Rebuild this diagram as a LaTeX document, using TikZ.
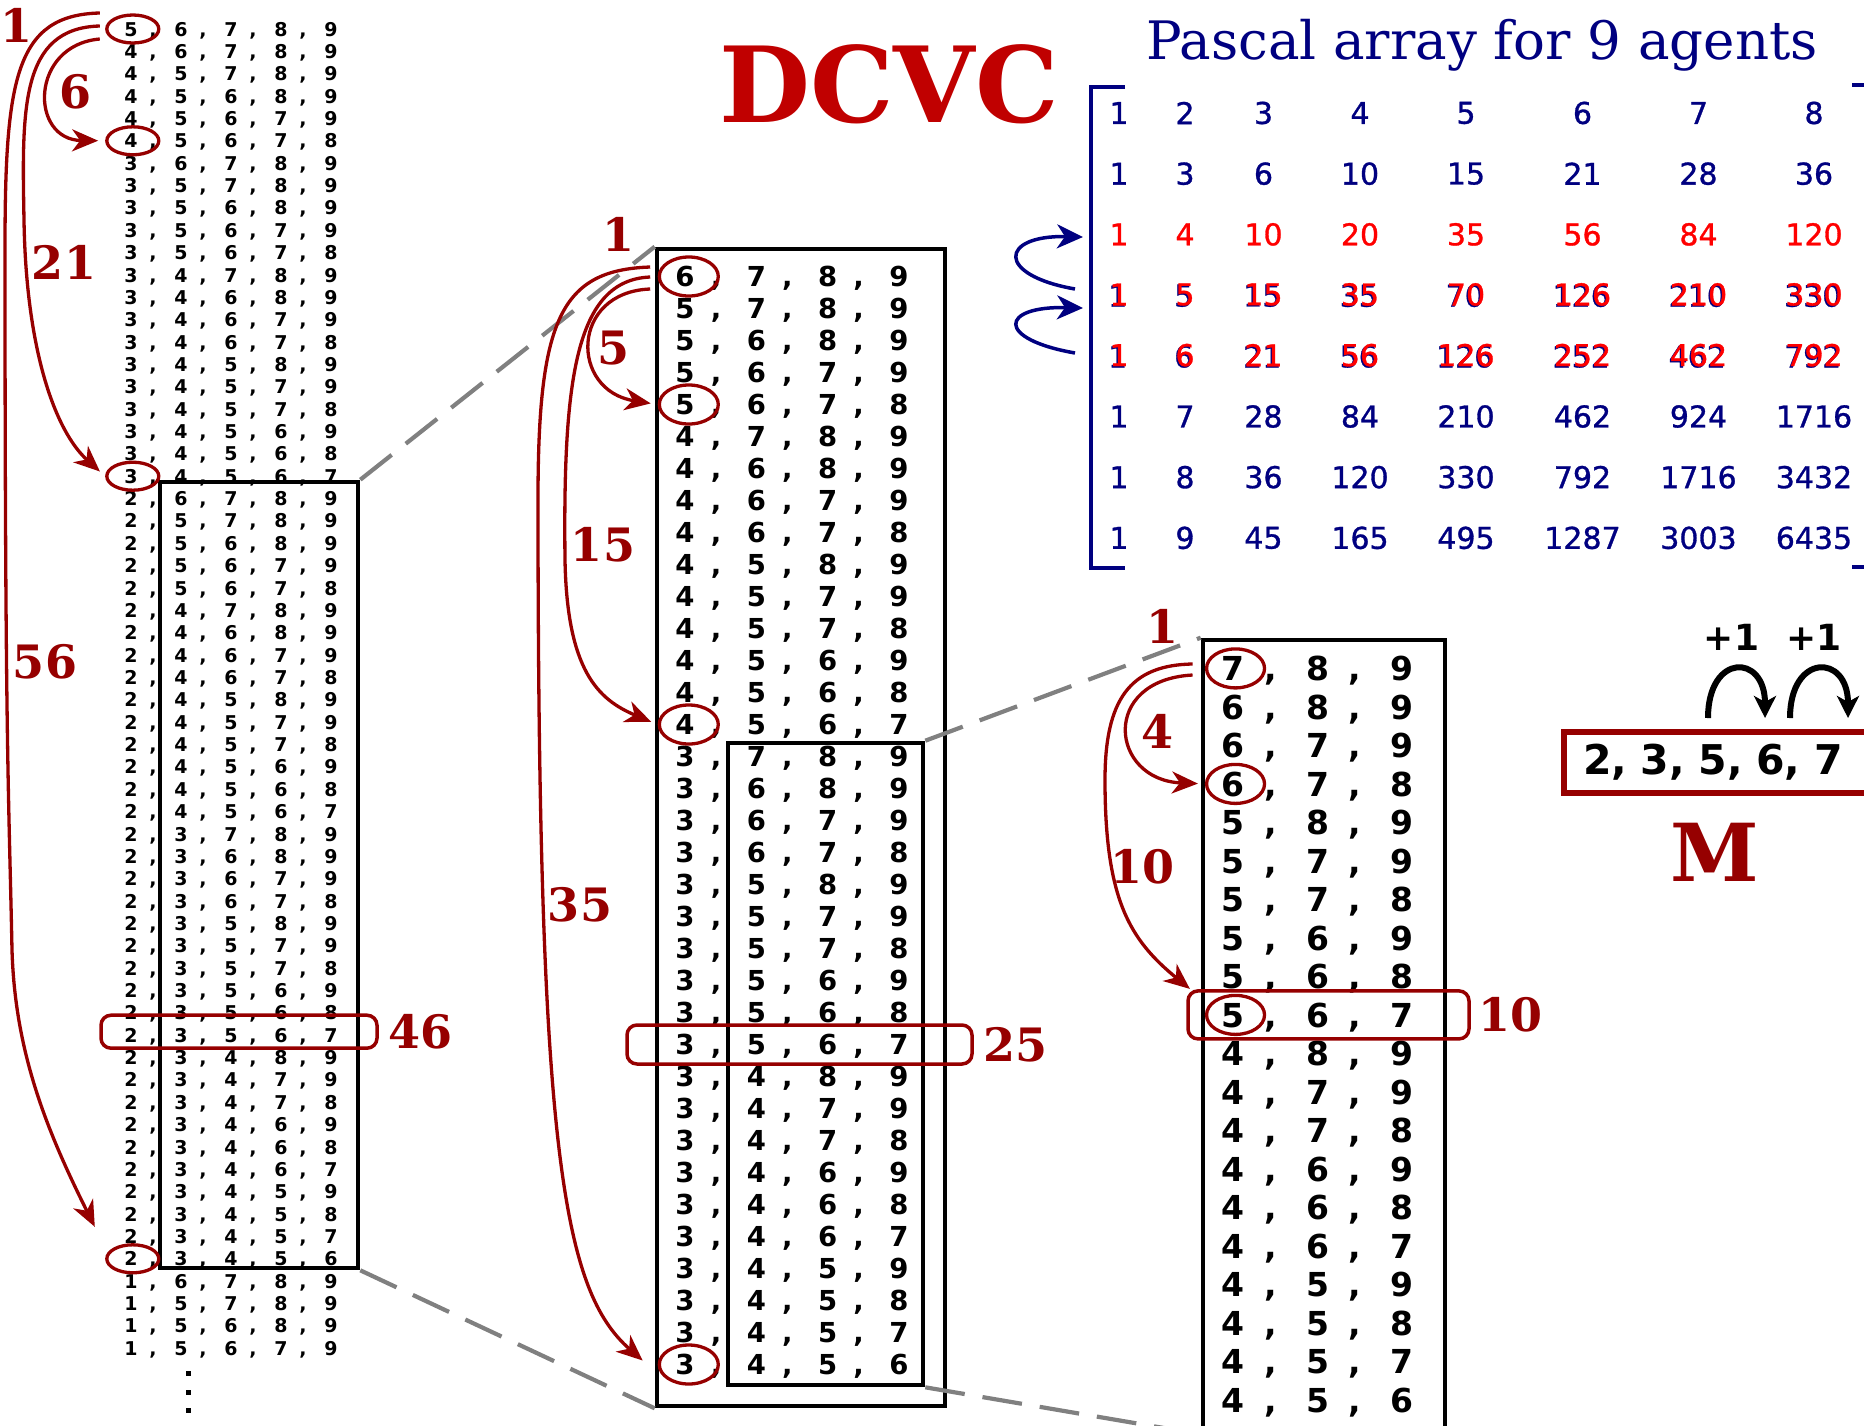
\documentclass[tikz,border=0pt]{standalone}
\usepackage{fontspec}
\newfontfamily\listfont{DejaVu Sans}
\newfontfamily\pasfont[FakeBold=1]{DejaVu Sans}
\newfontfamily\labelfont{DejaVu Serif}
\usetikzlibrary{arrows.meta,positioning,shapes.geometric}

\definecolor{tupred}{RGB}{150,0,0}
\definecolor{titlered}{RGB}{192,0,0}
\definecolor{pasnavy}{RGB}{0,0,128}
\definecolor{pasred}{RGB}{255,0,0}
\definecolor{zoomgray}{RGB}{128,128,128}

% one tuple of a list: digits on a fixed pitch, commas pulled a little to the left
\newlength\digitpitch
\newlength\commaback
\newcommand\tdigit[1]{\makebox[\digitpitch]{#1}}
\newcommand\tcomma{\kern-\commaback\makebox[0pt]{,}\kern\commaback}
\newcommand\fivetuple[5]{\tdigit{#1}\tcomma\tdigit{#2}\tcomma\tdigit{#3}\tcomma\tdigit{#4}\tcomma\tdigit{#5}}
\newcommand\fourtuple[4]{\tdigit{#1}\tcomma\tdigit{#2}\tcomma\tdigit{#3}\tcomma\tdigit{#4}}
\newcommand\threetuple[3]{\tdigit{#1}\tcomma\tdigit{#2}\tcomma\tdigit{#3}}
% entries of the Pascal array
\newcommand\plainnum[1]{#1}
\newcommand\rednum[1]{\textcolor{pasred}{#1}}
\newcommand\shadenum[1]{\makebox[0pt][l]{\kern-1.3pt\raisebox{-1.3pt}{\textcolor{pasnavy}{#1}}}\textcolor{pasred}{#1}}

\begin{document}
\begin{tikzpicture}[x=1pt,y=-1pt]
\tikzset{
  rowA/.style={inner sep=0pt,text depth=0pt,font=\listfont\bfseries\fontsize{19}{19}\selectfont\setlength\digitpitch{50pt}\setlength\commaback{3pt}},
  rowB/.style={inner sep=0pt,text depth=0pt,font=\listfont\bfseries\fontsize{27.5}{27.5}\selectfont\setlength\digitpitch{71.3pt}\setlength\commaback{4.7pt}},
  rowC/.style={inner sep=0pt,text depth=0pt,font=\listfont\bfseries\fontsize{33}{33}\selectfont\setlength\digitpitch{84.5pt}\setlength\commaback{4.7pt}},
  ring/.style={ellipse,draw=tupred,line width=3.3pt,inner sep=0pt},
  ringA/.style={ring,minimum width=52pt,minimum height=28pt},
  ringB/.style={ring,minimum width=59pt,minimum height=39pt},
  ringC/.style={ring,minimum width=58pt,minimum height=39pt},
  hlbox/.style={draw=tupred,line width=3.5pt,rounded corners=10pt,inner sep=0pt},
  blkbox/.style={draw=black,line width=4.6pt,inner sep=0pt},
  zoomline/.style={draw=zoomgray,line width=4.2pt,dash pattern=on 40pt off 18pt},
  redarr/.style={-{Stealth[length=26pt,width=22pt,inset=8pt]},draw=tupred,line width=3.3pt,shorten >=7pt},
  countlab/.style={text=tupred,font=\labelfont\bfseries\fontsize{46}{46}\selectfont,inner sep=0pt},
  pnum/.style={text=pasnavy,font=\pasfont\fontsize{30}{30}\selectfont,inner sep=0pt},
  bluearr/.style={-{Stealth[length=26pt,width=24pt,inset=8pt]},draw=pasnavy,line width=3.5pt},
  hoparr/.style={-{Stealth[length=22pt,width=22pt,inset=6pt]},line width=6pt},
  hoplab/.style={font=\listfont\bfseries\fontsize{36}{36}\selectfont,inner sep=0pt},
  mbox/.style={draw=tupred,line width=6pt,font=\listfont\bfseries\fontsize{41}{41}\selectfont}
}
\useasboundingbox (0,0) rectangle (1864,1425);
\clip (0,0) rectangle (1864,1425);

% titles
\node[text=titlered,font=\labelfont\bfseries\fontsize{105}{105}\selectfont,anchor=base,inner sep=0pt] (dcvc) at (889,122) {DCVC};
\node[text=pasnavy,font=\labelfont\fontsize{53}{53}\selectfont,anchor=base,inner sep=0pt] (ptitle) at (1482,59) {Pascal array for 9 agents};

% list of all 5-tuples
\foreach \tup [count=\i] in {56789,46789,45789,45689,45679,45678,36789,35789,35689,35679,35678,
  34789,34689,34679,34678,34589,34579,34578,34569,34568,34567,
  26789,25789,25689,25679,25678,24789,24689,24679,24678,24589,24579,24578,24569,24568,24567,
  23789,23689,23679,23678,23589,23579,23578,23569,23568,23567,23489,23479,23478,23469,23468,23467,
  23459,23458,23457,23456,16789,15789,15689,15679}
  \node[rowA] (a\i) at (231,{29+22.36*(\i-1)}) {\expandafter\fivetuple\tup};
\foreach \k in {0,1,2}
  \fill (185.5,{1371+18.7*\k}) rectangle +(5,5);

% tuples behind a leading 2
\foreach \tup [count=\i] in {6789,5789,5689,5679,5678,4789,4689,4679,4678,4589,4579,4578,4569,4568,4567,
  3789,3689,3679,3678,3589,3579,3578,3569,3568,3567,3489,3479,3478,3469,3468,3467,3459,3458,3457,3456}
  \node[rowB] (b\i) at (792,{276.5+32*(\i-1)}) {\expandafter\fourtuple\tup};

% tuples behind 2, 3
\foreach \tup [count=\i] in {789,689,679,678,589,579,578,569,568,567,489,479,478,469,468,467,459,458,457,456}
  \node[rowC] (c\i) at (1317.5,{668.4+38.5*(\i-1)}) {\expandafter\threetuple\tup};

% zoom boxes
\node[blkbox,minimum width=198pt,minimum height=786pt] (boxA) at (259,875) {};
\node[blkbox,minimum width=288pt,minimum height=1157pt] (boxB) at (801,827.5) {};
\node[blkbox,minimum width=195pt,minimum height=642pt] (boxBin) at (825.5,1064) {};
\node[blkbox,minimum width=242pt,minimum height=792pt] (boxC) at (1324,1036) {};
\draw[zoomline] (boxA.north east) -- (boxB.north west);
\draw[zoomline] (boxA.south east) -- (boxB.south west);
\draw[zoomline] (boxBin.north east) -- (boxC.north west);
\draw[zoomline] (boxBin.south east) -- (boxC.south west);

% circled leading digits
\foreach \i in {1,6,21,56}
  \node[ringA] (ra\i) at ([xshift=27pt]a\i.west) {};
\foreach \i in {1,5,15,35}
  \node[ringB] (rb\i) at ([xshift=39.6pt]b\i.west) {};
\foreach \i in {1,4,10}
  \node[ringC] (rc\i) at ([xshift=45pt]c\i.west) {};

% the tuple 2,3,5,6,7 in each list
\node[hlbox,minimum width=276pt,minimum height=33pt] (hlA) at ([shift={(8,-3.5)}]a46.center) {};
\node[hlbox,minimum width=345pt,minimum height=39pt] (hlB) at ([shift={(7.5,0)}]b25.center) {};
\node[hlbox,minimum width=281pt,minimum height=48pt] (hlC) at ([shift={(11,0)}]c10.center) {};
\node[countlab,right=10pt of hlA] (n46) {46};
\node[countlab,right=10pt of hlB] (n25) {25};
\node[countlab,right=8pt of hlC] (n10c) {10};

% jumps, first list
\draw[redarr] ([shift={(-6,10)}]a1.west) .. controls +(-70,6) and +(-76,-1) .. (ra6.west);
\draw[redarr] ([shift={(-6,-3)}]a1.west) .. controls +(-80,2) and +(-2,-110) .. (24,220)
  .. controls +(2,130) and +(-50,-45) .. (ra21.west);
\draw[redarr,shorten >=0pt] ([shift={(-6,-16)}]a1.west) .. controls +(-85,2) and +(0,-170) .. (5,250)
  .. controls +(0,500) and +(-3,-150) .. (12,950)
  .. controls +(3,100) and +(-50,-100) .. ([shift={(-38,-32)}]ra56.center);
\node[countlab] (n1a) at (17,25) {1};
\node[countlab] (n6) at (76,92) {6};
\node[countlab] (n21) at (64,262) {21};
\node[countlab] (n56) at (45,662) {56};

% jumps, second list
\draw[redarr] ([shift={(1,12.5)}]b1.west) .. controls +(-80,3) and +(-88,-14) .. (rb5.west);
\draw[redarr] ([shift={(1,0.5)}]b1.west) .. controls +(-75,3) and +(-2,-180) .. (565,560)
  .. controls +(2,110) and +(-60,-25) .. (rb15.west);
\draw[redarr,shorten >=0pt] ([shift={(1,-9.5)}]b1.west) .. controls +(-90,3) and +(0,-180) .. (538,500)
  .. controls +(0,650) and +(-80,-70) .. ([shift={(-15,-4)}]rb35.west);
\node[countlab] (n1b) at (618,234) {1};
\node[countlab] (n5) at (613,348) {5};
\node[countlab] (n15) at (603,545) {15};
\node[countlab] (n35) at (580,905) {35};

% jumps, third list
\draw[redarr] ([shift={(2,6.6)}]c1.west) .. controls +(-93,5) and +(-95,-4) .. (rc4.west);
\draw[redarr,shorten >=0pt] ([shift={(2,-4.4)}]c1.west) .. controls +(-63,1) and +(0,-80) .. (1105,780)
  .. controls +(0,120) and +(-60,-49) .. ([shift={(-15,-26)}]rc10.west);
\node[countlab] (n1c) at (1162,626) {1};
\node[countlab] (n4) at (1157,731) {4};
\node[countlab] (n10) at (1142,867) {10};

% Pascal array
\foreach \prow/\fmt [count=\i] in {
  {1,2,3,4,5,6,7,8}/\plainnum,
  {1,3,6,10,15,21,28,36}/\plainnum,
  {1,4,10,20,35,56,84,120}/\rednum,
  {1,5,15,35,70,126,210,330}/\shadenum,
  {1,6,21,56,126,252,462,792}/\shadenum,
  {1,7,28,84,210,462,924,1716}/\plainnum,
  {1,8,36,120,330,792,1716,3432}/\plainnum,
  {1,9,45,165,495,1287,3003,6435}/\plainnum}
  \foreach \v [count=\j] in \prow {
    \pgfmathsetmacro\px{{1119,1185,1263.5,1360,1466,1582.5,1698.5,1814}[\j-1]}
    \node[pnum] (p\i-\j) at (\px,{113+60.7*(\i-1)}) {\fmt{\v}};
  }
\draw[pasnavy,line width=4.5pt] (1125,87) -- (1091,87) -- (1091,568) -- (1125,568);
\draw[pasnavy,line width=4.5pt] (1852,85) -- (1870,85) -- (1870,567) -- (1852,567);
\coordinate (bfrom4) at (1075,289);
\coordinate (brk3) at (1083,237);
\coordinate (bfrom5) at (1075,353);
\coordinate (brk4) at (1083,308);
\draw[bluearr] (bfrom4) .. controls +(-80,-14) and +(-83,-2) .. (brk3);
\draw[bluearr] (bfrom5) .. controls +(-80,-14) and +(-83,-2) .. (brk4);

% the tuple M
\node[mbox,anchor=west,minimum height=61pt,text width=300pt,inner xsep=19pt] (mset) at (1561,762.5) {2, 3, 5, 6, 7};
\node[text=tupred,font=\labelfont\bfseries\fontsize{80}{80}\selectfont,anchor=base,inner sep=0pt] (mlab) at (1715,881.5) {M};
\coordinate (hop1s) at (1708,718);
\coordinate (hop1e) at (1765,718);
\coordinate (hop2s) at (1790,718);
\coordinate (hop2e) at (1848,718);
\draw[hoparr] (hop1s) .. controls +(0,-65) and +(0,-65) .. (hop1e);
\draw[hoparr] (hop2s) .. controls +(0,-65) and +(0,-65) .. (hop2e);
\node[hoplab,anchor=base] (plus1) at (1731.5,650) {+1};
\node[hoplab,anchor=base] (plus2) at (1814,650) {+1};
\end{tikzpicture}
\end{document}
